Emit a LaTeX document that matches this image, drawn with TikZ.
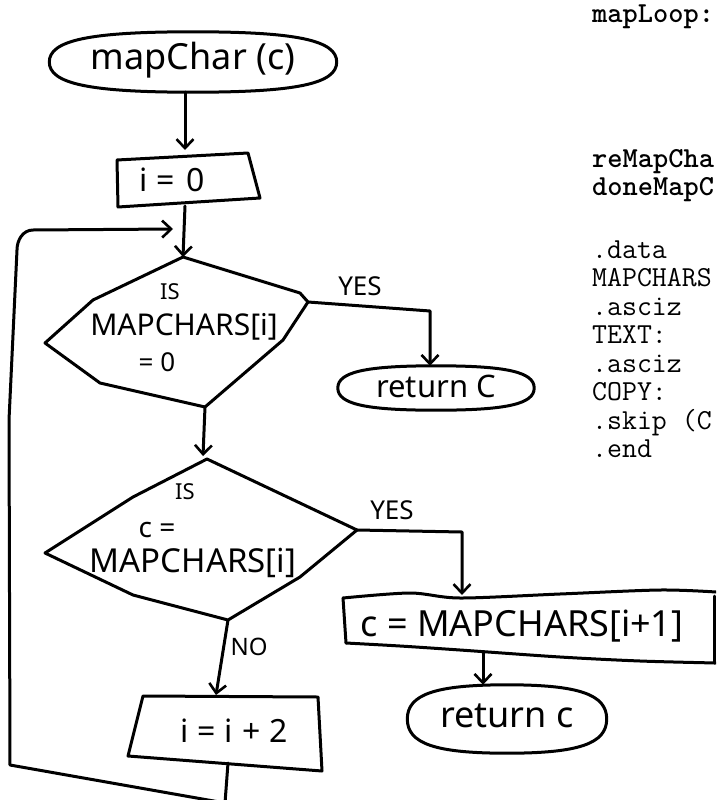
\documentclass[tikz,border=0pt]{standalone}
\usepackage{fontspec}
\setmainfont{Noto Sans}
\usetikzlibrary{arrows.meta,shapes.geometric,calc}
\tikzset{
  ln/.style={line width=3pt, line join=round, line cap=round},
  arr/.style={ln,-{Straight Barb[length=9pt,width=17pt,line width=2.6pt]}},
  hw/.style={inner sep=0pt, font=\fontsize{#1}{#1}\selectfont},
  codetxt/.style={anchor=base west, inner sep=0pt, font=\ttfamily\fontsize{29}{29}\selectfont},
  codebold/.style={anchor=base west, inner sep=0pt, font=\ttfamily\bfseries\fontsize{29}{29}\selectfont},
  oval/.style={rectangle, inner sep=0pt}
}
\begin{document}
\begin{tikzpicture}[x=1pt,y=-1pt]
\useasboundingbox (0,0) rectangle (716,800);
\clip (0,0) rectangle (716,800);
\fill[white] (0,0) rectangle (716,800);

% ---- start oval
\node[oval, minimum width=287pt, minimum height=60pt] (start) at (193,62) {};
\node[hw=36] (startt) at (193,60) {mapChar (c)};

% ---- i = 0 box
\coordinate (a1) at (117,160);
\coordinate (a2) at (248,153);
\coordinate (a3) at (260,198);
\coordinate (a4) at (118,207);
\draw[ln] (a1)--(a2)--(a3)--(a4)--cycle;
\node[hw=32] (i0) at (172,180) {i\kern9pt=\kern12pt0};
\coordinate (i0top) at (185,150);
\coordinate (i0bot) at (185,206);
\draw[arr] (start.south -| i0top) -- (i0top);

% ---- diamond 1
\coordinate (d1t) at (183,257);
\coordinate (d1r) at (308,302);
\coordinate (d1b) at (205,407);
\coordinate (d1l) at (45,343);
\draw[ln] (d1t) -- (93,300) -- (d1l) -- (100,383) -- (d1b) -- (283,340) -- (d1r) -- (300,293) -- cycle;
\draw[arr] (i0bot) -- (d1t);
\node[hw=22] (d1a) at (170,292) {IS};
\node[hw=30] (d1c) at (184,327) {MAPCHARS[i]};
\node[hw=26] (d1d) at (157,362) {= 0};

% ---- yes 1 -> return C
\node[hw=26] (y1) at (360,286) {YES};
\node[oval, minimum width=196pt, minimum height=44pt] (ret1) at (436,388) {};
\node[hw=31] (ret1t) at (436,386) {return C};
\coordinate (r1k) at (430,311);
\draw[arr] (d1r) -- (r1k) -- (r1k |- ret1.north);

% ---- diamond 2
\coordinate (d2t) at (207,459);
\coordinate (d2l) at (45,553);
\coordinate (d2b) at (228,620);
\coordinate (d2r) at (357,530);
\draw[ln] (d2t) -- (133,497) -- (d2l) -- (133,595) -- (d2b) -- (300,577) -- (d2r) -- cycle;
\draw[arr] (d1b) -- (203,456);
\node[hw=22] (d2a) at (185,492) {IS};
\node[hw=28] (d2c) at (157,530) {c =};
\node[hw=33] (d2d) at (193,563) {MAPCHARS[i]};

% ---- yes 2 -> c = MAPCHARS[i+1]
\node[hw=26] (y2) at (392,510) {YES};
\draw[ln] plot[smooth] coordinates {(343,598) (410,593) (460,598) (560,594) (660,590) (716,592)};
\draw[ln] plot[smooth] coordinates {(346,643) (400,646) (460,650) (560,657) (640,661) (716,663)};
\draw[ln] (343,598) -- (346,643);
\draw[ln] (714,596) -- (714,663);
\node[hw=36] (box2) at (522,626) {c = MAPCHARS[i+1]};
\coordinate (y2k) at (462,532);
\draw[arr] (d2r) -- (y2k) -- (462,595);

% ---- return c
\node[oval, minimum width=199pt, minimum height=68pt] (ret2) at (507,719) {};
\node[hw=36] (ret2t) at (507,716) {return c};
\coordinate (b2bot) at (483,652);
\draw[arr] (b2bot) -- (b2bot |- ret2.north);

% ---- oval outlines (rounded blobs between ellipse and box)
\def\kk{0.72}
\foreach \n in {start,ret1,ret2}{
  \draw[ln] (\n.west)
    .. controls ($(\n.west)!\kk!(\n.north west)$) and ($(\n.north)!\kk!(\n.north west)$) .. (\n.north)
    .. controls ($(\n.north)!\kk!(\n.north east)$) and ($(\n.east)!\kk!(\n.north east)$) .. (\n.east)
    .. controls ($(\n.east)!\kk!(\n.south east)$) and ($(\n.south)!\kk!(\n.south east)$) .. (\n.south)
    .. controls ($(\n.south)!\kk!(\n.south west)$) and ($(\n.west)!\kk!(\n.south west)$) .. (\n.west) -- cycle;
}

% ---- NO -> i = i + 2
\node[hw=24] (no) at (249,647) {NO};
\coordinate (b1) at (143,696);
\coordinate (b2) at (318,697);
\coordinate (b3) at (322,771);
\coordinate (b4) at (128,756);
\draw[ln] (b1)--(b2)--(b3)--(b4)--cycle;
\node[hw=32] (i2) at (234,731) {i\kern9pt=\kern9pt i\kern9pt+\kern9pt2};
\coordinate (i2top) at (216,695);
\draw[arr] (d2b) -- (i2top);

% ---- loop back
\coordinate (i2bot) at (228,763);
\coordinate (loopin) at (173,229);
\draw[arr] (i2bot) -- (225,803) -- (10,765) -- (9,420) -- (17,250) to[out=90,in=180] (33,230) -- (loopin);

% ---- code listing
\node[codebold] (c1) at (592,23) {mapLoop:};
\node[codebold] (c2) at (592,167) {reMapCha};
\node[codebold] (c3) at (592,195) {doneMapC};
\node[codetxt] (c4) at (592,258) {.data};
\node[codetxt] (c5) at (592,286.5) {MAPCHARS};
\node[codetxt] (c6) at (592,315) {.asciz};
\node[codetxt] (c7) at (592,343.5) {TEXT:};
\node[codetxt] (c8) at (592,372) {.asciz};
\node[codetxt] (c9) at (592,400.5) {COPY:};
\node[codetxt] (c10) at (592,429) {.skip (C};
\node[codetxt] (c11) at (592,457.5) {.end};
\end{tikzpicture}
\end{document}
